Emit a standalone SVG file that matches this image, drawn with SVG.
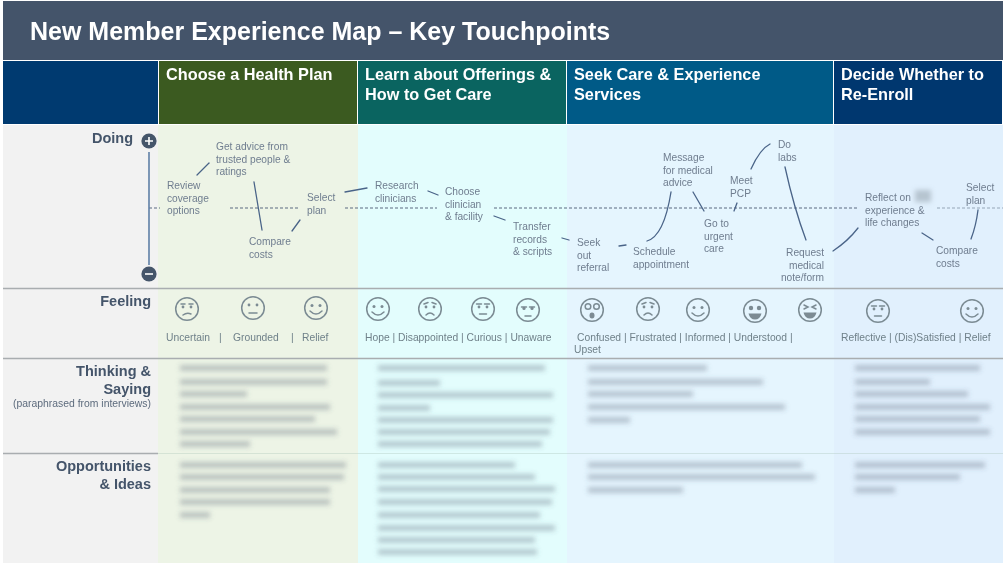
<svg xmlns="http://www.w3.org/2000/svg" width="1003" height="573" viewBox="0 0 1003 573">
<style>
text{font-family:"Liberation Sans",Arial,sans-serif}
.t{font-size:10.2px;fill:#6f7d8f}
.e{text-anchor:end}
.h{font-size:16.3px;font-weight:700;fill:#fff}
.s{font-size:14.5px;font-weight:700;fill:#44546a;text-anchor:end}
.f{font-size:10.3px;fill:#6f8089}
.c{fill:none;stroke:#4a6488;stroke-width:1.3;stroke-linecap:round}
.d{fill:none;stroke:#5a6b80;stroke-width:1;stroke-dasharray:3 2}
.r{stroke:#a9adb0;stroke-width:1.4}
.b{fill:#44546a;opacity:.3}
.fc{fill:none;stroke:#7b8b93;stroke-width:1.5;stroke-linecap:round}
.fe{fill:#7b8b93}
</style>
<defs>
<filter id="soft" x="-5%" y="-5%" width="110%" height="110%"><feGaussianBlur stdDeviation="0.5"/></filter>
<filter id="blur" x="-5%" y="-5%" width="110%" height="110%"><feGaussianBlur stdDeviation="2.6"/></filter>
<g id="flat"><circle class="fc" r="11.3"/><circle class="fe" cx="-4" cy="-3" r="1.4"/><circle class="fe" cx="4" cy="-3" r="1.4"/><path class="fc" d="M-4 5H4"/></g>
<g id="smile"><circle class="fc" r="11.3"/><circle class="fe" cx="-4" cy="-2.5" r="1.5"/><circle class="fe" cx="4" cy="-2.5" r="1.5"/><path class="fc" d="M-6 3Q0 9 6 3"/></g>
<g id="sad"><circle class="fc" r="11.3"/><circle class="fe" cx="-4" cy="-2" r="1.4"/><circle class="fe" cx="4" cy="-2" r="1.4"/><path class="fc" d="M-6-5L-2-6.5M6-5L2-6.5M-4 6Q0 2 4 6"/></g>
<g id="unsure"><circle class="fc" r="11.3"/><circle class="fe" cx="-4" cy="-2" r="1.4"/><circle class="fe" cx="4" cy="-2" r="1.4"/><path class="fc" d="M-6-5H-2M6-5H2M-4 6Q0 3 4 5"/></g>
<g id="brow"><circle class="fc" r="11.3"/><circle class="fe" cx="-4" cy="-2" r="1.4"/><circle class="fe" cx="4" cy="-2" r="1.4"/><path class="fc" d="M-6.5-5H-1.5M6.5-5H1.5M-3.5 5H3.5"/></g>
<g id="unaware"><circle class="fc" r="11.3"/><path class="fc" stroke-width="2.4" d="M-6.5-3H-1.5M6.5-3H1.5"/><circle class="fe" cx="-4" cy="-1.6" r="1.6"/><circle class="fe" cx="4" cy="-1.6" r="1.6"/><path class="fc" d="M-3 6H3"/></g>
</defs>

<g id="backdrop">
<rect x="3" y="1" width="1000" height="59" fill="#44546a"/>
<rect x="3" y="61" width="155" height="63" fill="#003a70"/>
<rect x="159" y="61" width="198" height="63" fill="#3b5a20"/>
<rect x="358" y="61" width="208" height="63" fill="#0a6460"/>
<rect x="567" y="61" width="266" height="63" fill="#005a87"/>
<rect x="834" y="61" width="168" height="63" fill="#00376f"/>
<rect x="3" y="125" width="155" height="438" fill="#f2f2f2"/>
<rect x="158" y="125" width="200" height="438" fill="#edf4e6"/>
<rect x="358" y="125" width="209" height="438" fill="#e3fdfd"/>
<rect x="567" y="125" width="267" height="438" fill="#e5f5fe"/>
<rect x="834" y="125" width="169" height="438" fill="#e1f0fd"/>
<path class="r" d="M3 288.5H1003M3 358.5H1003M3 453.5H158"/>
<path d="M158 453.5H1003" stroke="#a9c4b8" stroke-width="1" opacity=".35"/>
</g>

<g id="blurred-notes" filter="url(#blur)">
<rect class="b" x="180" y="365" width="147" height="6"/><rect class="b" x="180" y="379" width="147" height="6"/><rect class="b" x="180" y="391" width="67" height="6"/><rect class="b" x="180" y="404" width="150" height="6"/><rect class="b" x="180" y="416" width="135" height="6"/><rect class="b" x="180" y="429" width="157" height="6"/><rect class="b" x="180" y="441" width="70" height="6"/>
<rect class="b" x="180" y="462" width="166" height="6"/><rect class="b" x="180" y="474" width="164" height="6"/><rect class="b" x="180" y="487" width="150" height="6"/><rect class="b" x="180" y="499" width="150" height="6"/><rect class="b" x="180" y="512" width="30" height="6"/>
<rect class="b" x="378" y="365" width="167" height="6"/><rect class="b" x="378" y="380" width="62" height="6"/><rect class="b" x="378" y="392" width="175" height="6"/><rect class="b" x="378" y="405" width="52" height="6"/><rect class="b" x="378" y="417" width="175" height="6"/><rect class="b" x="378" y="429" width="172" height="6"/><rect class="b" x="378" y="441" width="164" height="6"/>
<rect class="b" x="378" y="462" width="137" height="6"/><rect class="b" x="378" y="474" width="157" height="6"/><rect class="b" x="378" y="486" width="177" height="6"/><rect class="b" x="378" y="499" width="174" height="6"/><rect class="b" x="378" y="512" width="162" height="6"/><rect class="b" x="378" y="525" width="177" height="6"/><rect class="b" x="378" y="537" width="157" height="6"/><rect class="b" x="378" y="549" width="159" height="6"/>
<rect class="b" x="588" y="365" width="119" height="6"/><rect class="b" x="588" y="379" width="175" height="6"/><rect class="b" x="588" y="391" width="105" height="6"/><rect class="b" x="588" y="404" width="197" height="6"/><rect class="b" x="588" y="417" width="42" height="6"/>
<rect class="b" x="588" y="462" width="214" height="6"/><rect class="b" x="588" y="474" width="227" height="6"/><rect class="b" x="588" y="487" width="95" height="6"/>
<rect class="b" x="855" y="365" width="125" height="6"/><rect class="b" x="855" y="379" width="75" height="6"/><rect class="b" x="855" y="391" width="113" height="6"/><rect class="b" x="855" y="404" width="135" height="6"/><rect class="b" x="855" y="416" width="125" height="6"/><rect class="b" x="855" y="429" width="135" height="6"/>
<rect class="b" x="855" y="462" width="130" height="6"/><rect class="b" x="855" y="474" width="105" height="6"/><rect class="b" x="855" y="487" width="40" height="6"/>
<rect x="915" y="190" width="16" height="12" fill="#9aa6b2" opacity=".6"/>
</g>

<g id="connectors" filter="url(#soft)">
<path class="d" d="M149 208H160M230 208H299M345 208H437M494 208H858"/>
<path class="d" d="M937 208H1003" opacity=".55"/>
<path d="M149 152V265" fill="none" stroke="#5f7fa6" stroke-width="1.6"/>
<path class="c" d="M197 175L209 163"/>
<path class="c" d="M254 182L262 230"/>
<path class="c" d="M292 231L300 220"/>
<path class="c" d="M345 192L367 188"/>
<path class="c" d="M428 191L438 195"/>
<path class="c" d="M494 216L505 220"/>
<path class="c" d="M562 238L569 240"/>
<path class="c" d="M619 246L626 245"/>
<path class="c" d="M647 241Q664 236 671 192"/>
<path class="c" d="M693 192L704 211"/>
<path class="c" d="M734 211L737 203"/>
<path class="c" d="M751 169Q760 149 770 144"/>
<path class="c" d="M785 167Q794 208 806 240"/>
<path class="c" d="M833 251Q848 241 858 228"/>
<path class="c" d="M922 233L933 240"/>
<path class="c" d="M971 239Q976 226 978 210"/>
</g>

<g filter="url(#soft)">
<g id="title"><text x="30" y="40" font-size="25px" font-weight="700" fill="#fff">New Member Experience Map – Key Touchpoints</text></g>
<g id="phase-1"><text class="h" x="166" y="80">Choose a Health Plan</text></g>
<g id="phase-2"><text class="h" x="365" y="80">Learn about Offerings &amp;</text><text class="h" x="365" y="100">How to Get Care</text></g>
<g id="phase-3"><text class="h" x="574" y="80">Seek Care &amp; Experience</text><text class="h" x="574" y="100">Services</text></g>
<g id="phase-4"><text class="h" x="841" y="80">Decide Whether to</text><text class="h" x="841" y="100">Re-Enroll</text></g>

<g id="row-doing"><text class="s" x="133" y="143">Doing</text>
<circle cx="149" cy="141" r="7.6" fill="#44546a"/><path d="M145 141H153M149 137V145" stroke="#fff" stroke-width="1.6"/>
<circle cx="149" cy="274" r="7.6" fill="#44546a"/><path d="M145 274H153" stroke="#fff" stroke-width="1.6"/></g>
<g id="row-feeling"><text class="s" x="151" y="306">Feeling</text></g>
<g id="row-thinking"><text class="s" x="151" y="376">Thinking &amp;</text><text class="s" x="151" y="394">Saying</text><text x="151" y="407" class="e" font-size="10.4px" fill="#5d6b7d">(paraphrased from interviews)</text></g>
<g id="row-opportunities"><text class="s" x="151" y="471">Opportunities</text><text class="s" x="151" y="489">&amp; Ideas</text></g>

<g id="step-review"><text class="t" x="167" y="189">Review</text><text class="t" x="167" y="202">coverage</text><text class="t" x="167" y="214">options</text></g>
<g id="step-advice"><text class="t" x="216" y="150">Get advice from</text><text class="t" x="216" y="163">trusted people &amp;</text><text class="t" x="216" y="175">ratings</text></g>
<g id="step-compare-1"><text class="t" x="249" y="245">Compare</text><text class="t" x="249" y="258">costs</text></g>
<g id="step-select-1"><text class="t" x="307" y="201">Select</text><text class="t" x="307" y="214">plan</text></g>
<g id="step-research"><text class="t" x="375" y="189">Research</text><text class="t" x="375" y="202">clinicians</text></g>
<g id="step-choose"><text class="t" x="445" y="195">Choose</text><text class="t" x="445" y="208">clinician</text><text class="t" x="445" y="220">&amp; facility</text></g>
<g id="step-transfer"><text class="t" x="513" y="230">Transfer</text><text class="t" x="513" y="243">records</text><text class="t" x="513" y="255">&amp; scripts</text></g>
<g id="step-seek"><text class="t" x="577" y="246">Seek</text><text class="t" x="577" y="259">out</text><text class="t" x="577" y="271">referral</text></g>
<g id="step-schedule"><text class="t" x="633" y="255">Schedule</text><text class="t" x="633" y="268">appointment</text></g>
<g id="step-message"><text class="t" x="663" y="161">Message</text><text class="t" x="663" y="174">for medical</text><text class="t" x="663" y="186">advice</text></g>
<g id="step-urgent"><text class="t" x="704" y="227">Go to</text><text class="t" x="704" y="240">urgent</text><text class="t" x="704" y="252">care</text></g>
<g id="step-pcp"><text class="t" x="730" y="184">Meet</text><text class="t" x="730" y="197">PCP</text></g>
<g id="step-labs"><text class="t" x="778" y="148">Do</text><text class="t" x="778" y="161">labs</text></g>
<g id="step-request"><text class="t e" x="824" y="256">Request</text><text class="t e" x="824" y="269">medical</text><text class="t e" x="824" y="281">note/form</text></g>
<g id="step-reflect"><text class="t" x="865" y="201">Reflect on</text><text class="t" x="865" y="214">experience &amp;</text><text class="t" x="865" y="226">life changes</text></g>
<g id="step-compare-2"><text class="t" x="936" y="254">Compare</text><text class="t" x="936" y="267">costs</text></g>
<g id="step-select-2"><text class="t" x="966" y="191">Select</text><text class="t" x="966" y="204">plan</text></g>

<g id="faces-1"><use href="#unsure" x="187" y="309"/><use href="#flat" x="253" y="308"/><use href="#smile" x="316" y="308"/>
<text class="f" x="166" y="341">Uncertain</text><text class="f" x="219" y="341">|</text><text class="f" x="233" y="341">Grounded</text><text class="f" x="291" y="341">|</text><text class="f" x="302" y="341">Relief</text></g>
<g id="faces-2"><use href="#smile" x="378" y="309"/><use href="#sad" x="430" y="309"/><use href="#brow" x="483" y="309"/><use href="#unaware" x="528" y="310"/>
<text class="f" x="365" y="341">Hope | Disappointed | Curious | Unaware</text></g>
<g id="faces-3">
<g transform="translate(592 310)"><circle class="fc" r="11.3"/><circle class="fc" cx="-4" cy="-3.5" r="2.8"/><circle class="fc" cx="4.5" cy="-3.5" r="2.8"/><ellipse class="fe" cy="5.5" rx="2.5" ry="3"/></g>
<use href="#sad" x="648" y="309"/><use href="#smile" x="698" y="310"/>
<g transform="translate(755 311)"><circle class="fc" r="11.3"/><circle class="fe" cx="-4" cy="-3" r="2.2"/><circle class="fe" cx="4" cy="-3" r="2.2"/><path class="fe" d="M-6.5 2.5H6.5Q5 8.5 0 8.5T-6.5 2.5Z"/></g>
<g transform="translate(810 310)"><circle class="fc" r="11.3"/><path class="fc" d="M-6-5L-2-3L-6-1M6-5L2-3L6-1"/><path class="fe" d="M-6.5 2.5H6.5Q5 8.5 0 8.5T-6.5 2.5Z"/></g>
<text class="f" x="577" y="341">Confused | Frustrated | Informed | Understood |</text><text class="f" x="574" y="353">Upset</text></g>
<g id="faces-4"><use href="#brow" x="878" y="311"/><use href="#smile" x="972" y="311"/>
<text class="f" x="841" y="341">Reflective | (Dis)Satisfied | Relief</text></g>
</g>
</svg>
